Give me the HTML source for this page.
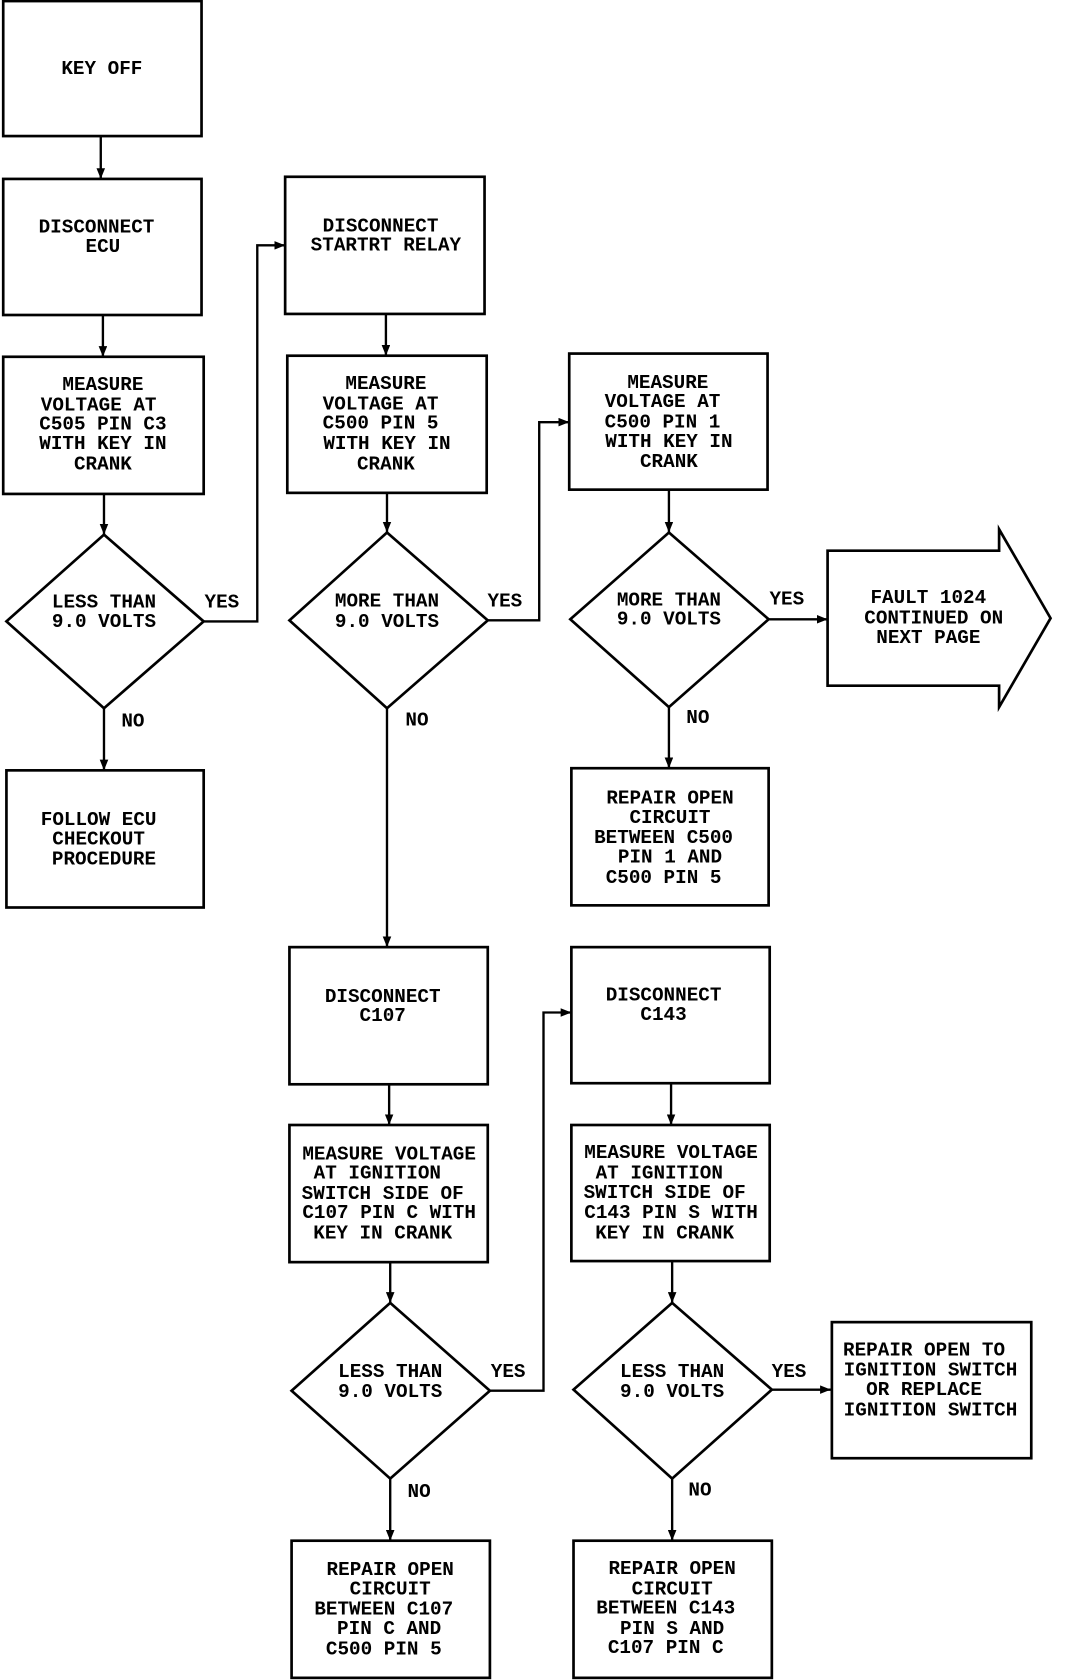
<!DOCTYPE html>
<html><head><meta charset="utf-8"><style>
html,body{margin:0;padding:0;background:#fff;}
svg{display:block;}
text{font-family:"Liberation Mono",monospace;font-size:18px;font-weight:bold;fill:#000;text-anchor:middle;}
</style></head><body>
<svg width="1072" height="1680" viewBox="0 0 1000 1568" preserveAspectRatio="none" xmlns="http://www.w3.org/2000/svg">
<defs><marker id="a" markerWidth="10" markerHeight="8" refX="10" refY="4" orient="auto" markerUnits="userSpaceOnUse"><path d="M0,0 L10,4 L0,8 z" fill="#000"/></marker></defs>
<g fill="none" stroke="#000" stroke-width="2.5">
<rect x="3" y="1" width="185" height="126"/>
<rect x="3" y="167" width="185" height="127"/>
<rect x="3" y="333" width="187" height="128"/>
<polygon points="97,499 190,580 97,661 6,580"/>
<rect x="6" y="719" width="184" height="128"/>
<rect x="266" y="165" width="186" height="128"/>
<rect x="268" y="332" width="186" height="128"/>
<polygon points="361,497 455,579 361,661 270,579"/>
<rect x="270" y="884" width="185" height="128"/>
<rect x="270" y="1050" width="185" height="128"/>
<polygon points="364,1216 457,1298 364,1380 272,1298"/>
<rect x="272" y="1438" width="185" height="128"/>
<rect x="531" y="330" width="185" height="127"/>
<polygon points="624,497 717,578 624,660 532,578"/>
<rect x="533" y="717" width="184" height="128"/>
<rect x="533" y="884" width="185" height="127"/>
<rect x="533" y="1050" width="185" height="127"/>
<polygon points="627,1216 720,1297 627,1380 535,1297"/>
<rect x="535" y="1438" width="185" height="128"/>
<polygon points="772,514 932,514 932,494 980,577 932,660 932,640 772,640"/>
<rect x="776" y="1234" width="186" height="127"/>
</g>
<g fill="none" stroke="#000" stroke-width="2.2" marker-end="url(#a)">
<path d="M94,127 V167"/>
<path d="M96,294 V333"/>
<path d="M97,461 V499"/>
<path d="M97,661 V719"/>
<path d="M190,580 H240 V229 H266"/>
<path d="M360,293 V332"/>
<path d="M361,460 V497"/>
<path d="M455,579 H503 V394 H531"/>
<path d="M361,661 V884"/>
<path d="M363,1012 V1050"/>
<path d="M364,1178 V1216"/>
<path d="M457,1298 H507 V945 H533"/>
<path d="M364,1380 V1438"/>
<path d="M624,457 V497"/>
<path d="M717,578 H772"/>
<path d="M624,660 V717"/>
<path d="M626,1011 V1050"/>
<path d="M627,1177 V1216"/>
<path d="M720,1297 H775"/>
<path d="M627,1380 V1438"/>
</g>
<text x="95" y="69">KEY OFF</text>
<text x="90" y="217">DISCONNECT</text><text x="96" y="235">ECU</text>
<text x="96" y="364">MEASURE</text><text x="92" y="383">VOLTAGE AT</text><text x="96" y="401">C505 PIN C3</text><text x="96" y="419">WITH KEY IN</text><text x="96" y="438">CRANK</text>
<text x="97" y="567">LESS THAN</text><text x="97" y="585">9.0 VOLTS</text>
<text x="207" y="567">YES</text><text x="124" y="678">NO</text>
<text x="92" y="770">FOLLOW ECU</text><text x="92" y="788">CHECKOUT</text><text x="97" y="807">PROCEDURE</text>
<text x="355" y="216">DISCONNECT</text><text x="360" y="234">STARTRT RELAY</text>
<text x="360" y="363">MEASURE</text><text x="355" y="382">VOLTAGE AT</text><text x="355" y="400">C500 PIN 5</text><text x="361" y="419">WITH KEY IN</text><text x="360" y="438">CRANK</text>
<text x="361" y="566">MORE THAN</text><text x="361" y="585">9.0 VOLTS</text>
<text x="471" y="566">YES</text><text x="389" y="677">NO</text>
<text x="357" y="935">DISCONNECT</text><text x="357" y="953">C107</text>
<text x="363" y="1082">MEASURE VOLTAGE</text><text x="352" y="1100">AT IGNITION</text><text x="357" y="1119">SWITCH SIDE OF</text><text x="363" y="1137">C107 PIN C WITH</text><text x="357" y="1156">KEY IN CRANK</text>
<text x="364" y="1285">LESS THAN</text><text x="364" y="1304">9.0 VOLTS</text>
<text x="474" y="1285">YES</text><text x="391" y="1397">NO</text>
<text x="364" y="1470">REPAIR OPEN</text><text x="364" y="1488">CIRCUIT</text><text x="358" y="1507">BETWEEN C107</text><text x="363" y="1525">PIN C AND</text><text x="358" y="1544">C500 PIN 5</text>
<text x="623" y="362">MEASURE</text><text x="618" y="380">VOLTAGE AT</text><text x="618" y="399">C500 PIN 1</text><text x="624" y="417">WITH KEY IN</text><text x="624" y="436">CRANK</text>
<text x="624" y="565">MORE THAN</text><text x="624" y="583">9.0 VOLTS</text>
<text x="734" y="564">YES</text><text x="651" y="675">NO</text>
<text x="866" y="563">FAULT 1024</text><text x="871" y="582">CONTINUED ON</text><text x="866" y="600">NEXT PAGE</text>
<text x="625" y="750">REPAIR OPEN</text><text x="625" y="768">CIRCUIT</text><text x="619" y="787">BETWEEN C500</text><text x="625" y="805">PIN 1 AND</text><text x="619" y="824">C500 PIN 5</text>
<text x="619" y="934">DISCONNECT</text><text x="619" y="952">C143</text>
<text x="626" y="1081">MEASURE VOLTAGE</text><text x="615" y="1100">AT IGNITION</text><text x="620" y="1118">SWITCH SIDE OF</text><text x="626" y="1137">C143 PIN S WITH</text><text x="620" y="1156">KEY IN CRANK</text>
<text x="627" y="1285">LESS THAN</text><text x="627" y="1304">9.0 VOLTS</text>
<text x="736" y="1285">YES</text><text x="653" y="1396">NO</text>
<text x="627" y="1469">REPAIR OPEN</text><text x="627" y="1488">CIRCUIT</text><text x="621" y="1506">BETWEEN C143</text><text x="627" y="1525">PIN S AND</text><text x="621" y="1543">C107 PIN C</text>
<text x="862" y="1265">REPAIR OPEN TO</text><text x="868" y="1284">IGNITION SWITCH</text><text x="862" y="1302">OR REPLACE</text><text x="868" y="1321">IGNITION SWITCH</text>
</svg>
</body></html>
